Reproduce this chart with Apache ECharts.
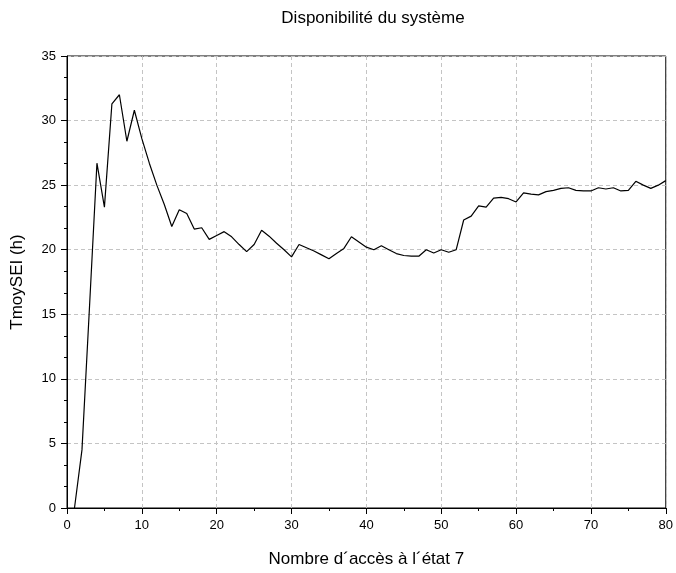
<!DOCTYPE html>
<html>
<head>
<meta charset="utf-8">
<script src="https://cdn.jsdelivr.net/npm/echarts@6/dist/echarts.min.js"></script>
<style>html,body{margin:0;padding:0;background:#fff;}#c{width:676px;height:573px;}</style>
</head>
<body>
<div id="c"></div>
<script>
const titleText = "Disponibilité du système";
const xName = "Nombre d´accès à l´état 7";
const yName = "TmoySEI (h)";
const xValues = [1,2,3,4,5,6,7,8,9,10,11,12,13,14,15,16,17,18,19,20,21,22,23,24,25,26,27,28,29,30,31,32,33,34,35,36,37,38,39,40,41,42,43,44,45,46,47,48,49,50,51,52,53,54,55,56,57,58,59,60,61,62,63,64,65,66,67,68,69,70,71,72,73,74,75,76,77,78,79,80];
const yValues = [0,4.5,15.5,26.7,23.3,31.3,32.0,28.4,30.8,28.6,26.7,25.0,23.5,21.8,23.1,22.8,21.6,21.7,20.8,21.1,21.4,21.0,20.4,19.85,20.4,21.5,21.05,20.5,20.0,19.45,20.4,20.15,19.9,19.6,19.3,19.7,20.1,21.0,20.6,20.2,20.0,20.3,20.0,19.7,19.55,19.5,19.5,20.0,19.75,20.0,19.8,20.0,22.3,22.6,23.4,23.3,24.0,24.05,23.95,23.7,24.4,24.3,24.25,24.5,24.6,24.75,24.8,24.6,24.55,24.55,24.8,24.7,24.8,24.55,24.6,25.3,25.0,24.75,25.0,25.35];
const xTicks = {min: 0, max: 80, interval: 10};
const yTicks = {min: 0, max: 35, interval: 5};

const font = "'Liberation Sans', Arial, sans-serif";
const chart = echarts.init(document.getElementById('c'), null, {renderer: 'canvas'});
const pts = xValues.map((x, i) => [x, yValues[i]]);
const gridLine = {show: true, lineStyle: {color: '#c4c4c4', type: [4, 3], width: 1}};
chart.setOption({
  animation: false,
  backgroundColor: '#fff',
  title: {
    text: titleText, left: 368, top: 5, textAlign: 'center',
    textStyle: {fontFamily: font, fontSize: 17, fontWeight: 'normal', color: '#000'}
  },
  grid: {left: 67, right: 7, top: 56, bottom: 61, show: true, borderColor: '#000', borderWidth: 1, backgroundColor: 'transparent'},
  xAxis: {
    type: 'value', min: xTicks.min, max: xTicks.max, interval: xTicks.interval,
    name: xName, nameLocation: 'middle', nameGap: 43,
    nameTextStyle: {fontFamily: font, fontSize: 17, color: '#000'},
    axisLine: {show: true, onZero: false, lineStyle: {color: '#000', width: 1}},
    axisTick: {show: true, inside: false, length: 6, lineStyle: {color: '#000'}},
    minorTick: {show: true, splitNumber: 2, length: 3, lineStyle: {color: '#000'}},
    axisLabel: {fontFamily: font, fontSize: 13, color: '#000', margin: 11},
    splitLine: gridLine
  },
  yAxis: {
    type: 'value', min: yTicks.min, max: yTicks.max, interval: yTicks.interval,
    name: yName, nameLocation: 'middle', nameGap: 41,
    nameTextStyle: {fontFamily: font, fontSize: 17, color: '#000'},
    axisLine: {show: true, onZero: false, lineStyle: {color: '#000', width: 1}},
    axisTick: {show: true, inside: false, length: 6, lineStyle: {color: '#000'}},
    minorTick: {show: true, splitNumber: 3, length: 3, lineStyle: {color: '#000'}},
    axisLabel: {fontFamily: font, fontSize: 13, color: '#000', margin: 11},
    splitLine: gridLine
  },
  series: [{
    type: 'line', data: pts, showSymbol: false, symbol: 'none',
    lineStyle: {color: '#000', width: 1.2}, clip: true
  }]
});
</script>
</body>
</html>
